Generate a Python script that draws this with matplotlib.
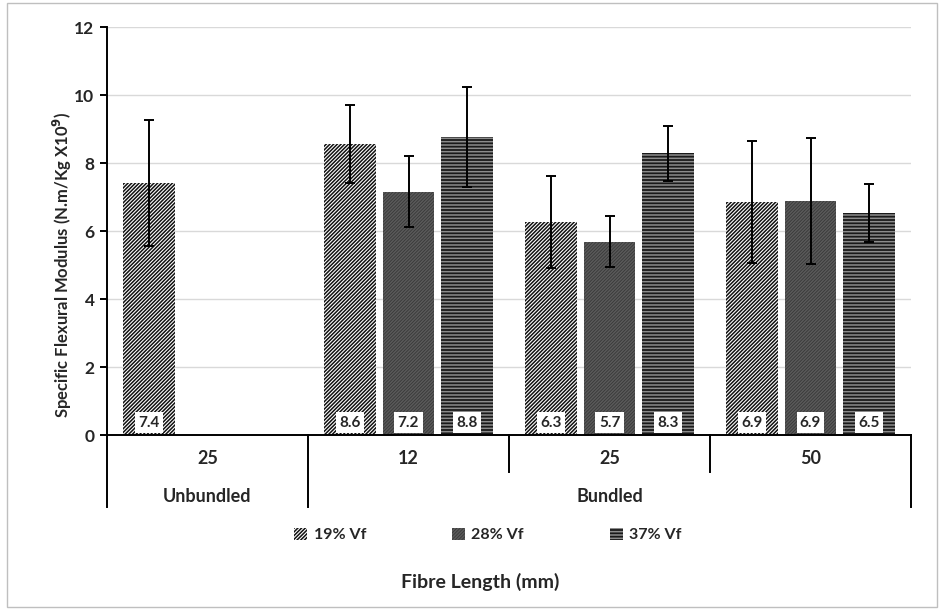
import numpy as np
import matplotlib
matplotlib.use("Agg")
from matplotlib import pyplot as plt
from matplotlib.patches import Patch, Rectangle

# data
lengths = ["25", "12", "25", "50"]
groups = ["Unbundled", "Bundled"]
series = ["19% Vf", "28% Vf", "37% Vf"]
vf19 = [7.41, 8.56, 6.27, 6.86]
vf28 = [np.nan, 7.16, 5.69, 6.89]
vf37 = [np.nan, 8.76, 8.28, 6.52]
err19 = [1.85, 1.16, 1.36, 1.80]
err28 = [np.nan, 1.05, 0.75, 1.85]
err37 = [np.nan, 1.47, 0.82, 0.85]

plt.rcParams['font.family'] = ['Lato', 'DejaVu Sans']
plt.rcParams['hatch.linewidth'] = 1.1
txt = '#262626'

fig = plt.figure(figsize=(9.41, 6.12), dpi=100)
ax = fig.add_axes([107/941, 1-435/612, (911-107)/941, (435-27)/612])

x = np.arange(len(lengths))
w = 0.257
step = 0.292
styles = [
    dict(facecolor='white', edgecolor='#111111', hatch='/'*9),
    dict(facecolor='#383838', edgecolor='#5a5a5a', hatch='/'*10),
    dict(facecolor='#1a1a1a', edgecolor='#8c8c8c', hatch='-'*5),
]
vals = [vf19, vf28, vf37]
errs = [err19, err28, err37]
for i in range(3):
    pos = x + (i-1)*step
    v = np.array(vals[i], dtype=float)
    e = np.array(errs[i], dtype=float)
    ok = ~np.isnan(v)
    ax.bar(pos[ok], v[ok], w, linewidth=0, zorder=2, **styles[i])
    ax.errorbar(pos[ok], v[ok], yerr=e[ok], fmt='none', ecolor='black',
                elinewidth=1.4, capsize=3.5, capthick=1.4, zorder=3)
    for p, val in zip(pos[ok], v[ok]):
        ax.text(p, 0.36, f"{val:.1f}", ha='center', va='center', fontsize=11,
                fontweight='bold', color=txt, zorder=4,
                bbox=dict(boxstyle='square,pad=0.22', fc='white', ec='none'))

ax.set_xlim(-0.5, 3.5)
ax.set_ylim(0, 12)
ax.set_yticks(range(0, 13, 2))
ax.yaxis.grid(True, color='#d9d9d9', linewidth=1)
ax.set_axisbelow(True)
ax.set_xticks([])
for s in ['top', 'right']:
    ax.spines[s].set_visible(False)
ax.spines['left'].set_linewidth(1.4)
ax.spines['bottom'].set_linewidth(1.4)
ax.tick_params(axis='y', length=5, width=1.4, labelsize=12.5, labelcolor=txt, pad=4)
for lab in ax.get_yticklabels():
    lab.set_fontweight('bold')

# two-level category axis
tr = ax.get_xaxis_transform()
h = 408.0
short_y = -(472-435)/h
long_y = -(507-435)/h
for sx, sy in zip([-0.5, 0.5, 1.5, 2.5, 3.5], [long_y, long_y, short_y, short_y, long_y]):
    ax.plot([sx, sx], [0, sy], color='black', linewidth=1.4, transform=tr, clip_on=False)
for xi, lab in zip(x, lengths):
    ax.text(xi, -(459-435)/h, lab, transform=tr, ha='center', va='center',
            fontsize=13, fontweight='bold', color=txt)
ax.text(0, -(496-435)/h, groups[0], transform=tr, ha='center', va='center',
        fontsize=13, fontweight='bold', color=txt)
ax.text(2, -(496-435)/h, groups[1], transform=tr, ha='center', va='center',
        fontsize=13, fontweight='bold', color=txt)

fig.text(62/941, 1-265/612, "Specific Flexural Modulus (N.m/Kg X10$^\\mathbf{9}$)",
         rotation=90, ha='center', va='center', fontsize=12, fontweight='bold', color=txt)
fig.text(480/941, 1-582/612, "Fibre Length (mm)", ha='center', va='center',
         fontsize=14, fontweight='bold', color=txt)

handles = [Patch(linewidth=0, label=series[i], **styles[i]) for i in range(3)]
leg = fig.legend(handles=handles, loc='center', bbox_to_anchor=(488/941, 1-535/612),
                 ncol=3, frameon=False, handlelength=0.8, handleheight=0.8,
                 handletextpad=0.4, columnspacing=5.4,
                 prop=dict(weight='bold', size=11.5))
for t in leg.get_texts():
    t.set_color(txt)

fig.patches.append(Rectangle((7/941, 1-607/612), 930/941, 604/612, transform=fig.transFigure,
                             fill=False, edgecolor='#bfbfbf', linewidth=1))

fig.savefig("out.png", dpi=100)
